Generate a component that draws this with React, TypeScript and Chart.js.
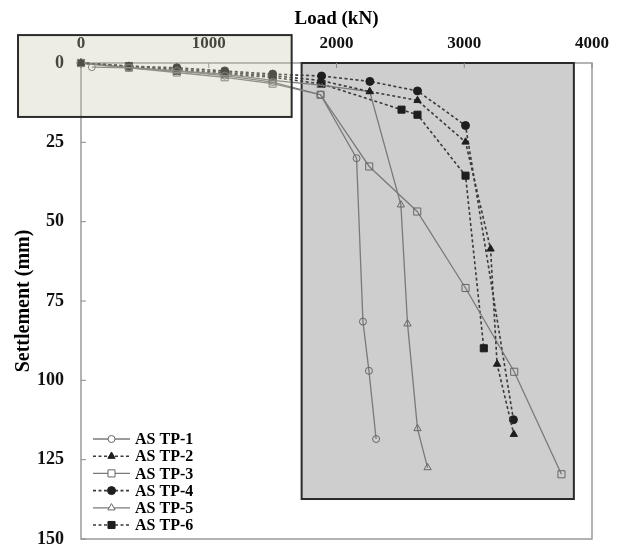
import React, { useEffect, useRef } from 'react';
import { Chart, registerables } from 'chart.js';

Chart.register(...registerables);

// ---- data (Load in kN, Settlement in mm) ----
const SERIES_NAMES = ['AS TP-1', 'AS TP-2', 'AS TP-3', 'AS TP-4', 'AS TP-5', 'AS TP-6'];

const LOAD_1 = [85, 375, 750, 1125, 1500, 1875, 2157, 2207, 2254, 2310];
const SETTLE_1 = [1.3, 1.5, 2.5, 4, 6, 10, 30, 81.5, 97, 118.5];

const LOAD_2 = [0, 375, 750, 1125, 1500, 1875, 2260, 2634, 3010, 3206, 3257, 3388];
const SETTLE_2 = [0, 1, 2, 3, 4, 5.5, 9, 11.8, 24.9, 58.6, 94.9, 117];

const LOAD_3 = [0, 375, 750, 1125, 1500, 1875, 2256, 2632, 3010, 3391, 3761];
const SETTLE_3 = [0, 1.5, 3, 4.5, 6.5, 10, 32.6, 46.8, 70.9, 97.3, 129.6];

const LOAD_4 = [0, 375, 750, 1125, 1500, 1883, 2261, 2634, 3010, 3385];
const SETTLE_4 = [0, 1, 1.5, 2.5, 3.5, 4.1, 5.8, 8.8, 19.7, 112.4];

const LOAD_5 = [0, 375, 750, 1125, 1500, 1875, 2260, 2504, 2556, 2634, 2713];
const SETTLE_5 = [0, 1.5, 2.5, 3.5, 5.5, 7, 9, 44.7, 82.2, 115.2, 127.5];

const LOAD_6 = [0, 375, 750, 1125, 1500, 1883, 2509, 2634, 3010, 3153];
const SETTLE_6 = [0, 1, 2.5, 3.5, 4.5, 6.6, 14.7, 16.3, 35.5, 89.9];

const X_TICKS = [0, 1000, 2000, 3000, 4000];
const Y_TICKS = [0, 25, 50, 75, 100, 125, 150];

// highlight regions, in data units
const HIGHLIGHT_LOAD = [-493, 1649];
const HIGHLIGHT_SETTLE = [-8.8, 17.0];
const FOCUS_LOAD = [1727, 3858];
const FOCUS_SETTLE = [0, 137.4];

const SERIF = "'Liberation Serif', 'Times New Roman', serif";

const SOLID = { color: '#7a7a7a', width: 1.3, dash: [] as number[] };
const DASHED = { color: '#3a3a3a', width: 1.6, dash: [3, 2.5] };

function makeDs(label: string, loads: number[], settles: number[], solid: boolean, pointStyle: string, radius: number) {
  const st = solid ? SOLID : DASHED;
  return {
    label,
    data: loads.map((l, i) => ({ x: l, y: settles[i] })),
    borderColor: st.color,
    borderWidth: st.width,
    borderDash: st.dash,
    pointStyle,
    pointRadius: radius,
    pointBorderWidth: 1,
    pointBorderColor: solid ? '#666666' : '#1e1e1e',
    pointBackgroundColor: solid ? 'rgba(0,0,0,0)' : '#1e1e1e',
    tension: 0,
    fill: false,
    clip: false as any,
  };
}

function drawMarker(ctx: CanvasRenderingContext2D, style: string, x: number, y: number, r: number, fill: string, stroke: string) {
  ctx.beginPath();
  if (style === 'circle') {
    ctx.arc(x, y, r, 0, Math.PI * 2);
  } else if (style === 'rect') {
    const s = r * Math.SQRT1_2;
    ctx.rect(x - s, y - s, 2 * s, 2 * s);
  } else {
    let rad = 0;
    ctx.moveTo(x + Math.sin(rad) * r, y - Math.cos(rad) * r);
    rad += (2 * Math.PI) / 3;
    ctx.lineTo(x + Math.sin(rad) * r, y - Math.cos(rad) * r);
    rad += (2 * Math.PI) / 3;
    ctx.lineTo(x + Math.sin(rad) * r, y - Math.cos(rad) * r);
  }
  ctx.closePath();
  ctx.fillStyle = fill;
  ctx.fill();
  ctx.setLineDash([]);
  ctx.lineWidth = 1;
  ctx.strokeStyle = stroke;
  ctx.stroke();
}

const decorPlugin = {
  id: 'decor',
  beforeDraw(chart: any) {
    const { ctx, chartArea: a, scales } = chart;
    const x = scales.x, y = scales.y;
    ctx.save();
    const gx0 = x.getPixelForValue(FOCUS_LOAD[0]);
    const gx1 = x.getPixelForValue(FOCUS_LOAD[1]);
    const gy0 = y.getPixelForValue(FOCUS_SETTLE[0]);
    const gy1 = y.getPixelForValue(FOCUS_SETTLE[1]);
    ctx.fillStyle = '#cecece';
    ctx.fillRect(gx0, gy0, gx1 - gx0, gy1 - gy0);
    // frame
    ctx.strokeStyle = '#9a9a9a';
    ctx.lineWidth = 1.5;
    ctx.strokeRect(a.left, a.top, a.right - a.left, a.bottom - a.top);
    // focus border
    ctx.strokeStyle = '#2a2a2a';
    ctx.lineWidth = 2;
    ctx.strokeRect(gx0, gy0, gx1 - gx0, gy1 - gy0);
    ctx.restore();
  },
  beforeDatasetsDraw(chart: any) {
    const { ctx, chartArea: a, scales } = chart;
    ctx.save();
    ctx.strokeStyle = '#8a8a8a';
    ctx.lineWidth = 1;
    X_TICKS.forEach((v) => {
      const px = scales.x.getPixelForValue(v);
      ctx.beginPath();
      ctx.moveTo(px, a.top);
      ctx.lineTo(px, a.top + 5);
      ctx.stroke();
    });
    Y_TICKS.forEach((v) => {
      const py = scales.y.getPixelForValue(v);
      ctx.beginPath();
      ctx.moveTo(a.left, py);
      ctx.lineTo(a.left + 5, py);
      ctx.stroke();
    });
    ctx.restore();
  },
  afterDatasetsDraw(chart: any) {
    const { ctx, chartArea: a } = chart;
    ctx.save();
    const x0 = a.left + 12;
    const lineLen = 37;
    const y0 = a.bottom - 100;
    const step = 17.2;
    chart.data.datasets.forEach((ds: any, i: number) => {
      const yy = y0 + i * step;
      ctx.beginPath();
      ctx.setLineDash(ds.borderDash || []);
      ctx.strokeStyle = ds.borderColor;
      ctx.lineWidth = ds.borderWidth;
      ctx.moveTo(x0, yy);
      ctx.lineTo(x0 + lineLen, yy);
      ctx.stroke();
      const hollow = ds.pointBackgroundColor === 'rgba(0,0,0,0)';
      drawMarker(ctx, ds.pointStyle, x0 + lineLen / 2, yy, ds.pointRadius, hollow ? '#ffffff' : ds.pointBackgroundColor, ds.pointBorderColor);
      ctx.fillStyle = '#000';
      ctx.font = `bold 16px ${SERIF}`;
      ctx.textAlign = 'left';
      ctx.textBaseline = 'middle';
      ctx.fillText(ds.label, x0 + lineLen + 5, yy + 1);
    });
    ctx.restore();
  },
  afterDraw(chart: any) {
    const { ctx, scales } = chart;
    const x = scales.x, y = scales.y;
    ctx.save();
    const bx0 = x.getPixelForValue(HIGHLIGHT_LOAD[0]);
    const bx1 = x.getPixelForValue(HIGHLIGHT_LOAD[1]);
    const by0 = y.getPixelForValue(HIGHLIGHT_SETTLE[0]);
    const by1 = y.getPixelForValue(HIGHLIGHT_SETTLE[1]);
    ctx.fillStyle = 'rgba(200,195,165,0.3)';
    ctx.fillRect(bx0, by0, bx1 - bx0, by1 - by0);
    ctx.strokeStyle = '#2b2b2b';
    ctx.lineWidth = 2;
    ctx.strokeRect(bx0, by0, bx1 - bx0, by1 - by0);
    ctx.restore();
  },
};

export default function App() {
  const ref = useRef<HTMLCanvasElement | null>(null);

  useEffect(() => {
    if (!ref.current) return;
    const datasets = [
      makeDs(SERIES_NAMES[0], LOAD_1, SETTLE_1, true, 'circle', 3.5),
      makeDs(SERIES_NAMES[1], LOAD_2, SETTLE_2, false, 'triangle', 4.2),
      makeDs(SERIES_NAMES[2], LOAD_3, SETTLE_3, true, 'rect', 5),
      makeDs(SERIES_NAMES[3], LOAD_4, SETTLE_4, false, 'circle', 4),
      makeDs(SERIES_NAMES[4], LOAD_5, SETTLE_5, true, 'triangle', 4.2),
      makeDs(SERIES_NAMES[5], LOAD_6, SETTLE_6, false, 'rect', 5),
    ];
    const chart = new Chart(ref.current, {
      type: 'line',
      data: { datasets: datasets as any },
      options: {
        animation: false,
        responsive: false,
        events: [],
        layout: { padding: { top: 0, left: 0, right: 28, bottom: 2 } },
        plugins: { legend: { display: false }, tooltip: { enabled: false } },
        scales: {
          x: {
            type: 'linear',
            position: 'top',
            min: 0,
            max: 4000,
            afterBuildTicks: (s: any) => { s.ticks = X_TICKS.map((v) => ({ value: v })); },
            afterFit: (s: any) => { s.height = 63; s.paddingLeft = 0; s.paddingRight = 0; },
            grid: { display: false, drawTicks: false },
            border: { display: false },
            ticks: { padding: 9, color: '#111', callback: (v: any) => String(v), font: { family: SERIF, size: 17, weight: 'bold' } },
            title: { display: true, text: 'Load (kN)', color: '#000', padding: { top: 8 }, font: { family: SERIF, size: 19, weight: 'bold' } },
          },
          y: {
            type: 'linear',
            reverse: true,
            min: 0,
            max: 150,
            afterBuildTicks: (s: any) => { s.ticks = Y_TICKS.map((v) => ({ value: v })); },
            afterFit: (s: any) => { s.width = 81; s.paddingTop = 0; s.paddingBottom = 0; },
            grid: { display: false, drawTicks: false },
            border: { display: false },
            ticks: { padding: 17, color: '#111', callback: (v: any) => String(v), font: { family: SERIF, size: 18, weight: 'bold' } },
            title: { display: true, text: 'Settlement (mm)', color: '#000', padding: { top: 12 }, font: { family: SERIF, size: 20, weight: 'bold' } },
          },
        },
      } as any,
      plugins: [decorPlugin],
    });
    return () => chart.destroy();
  }, []);

  return (
    <div style={{ position: 'fixed', left: 0, top: 0, width: 620, height: 545, background: '#fff' }}>
      <canvas ref={ref} width={620} height={545} />
    </div>
  );
}
